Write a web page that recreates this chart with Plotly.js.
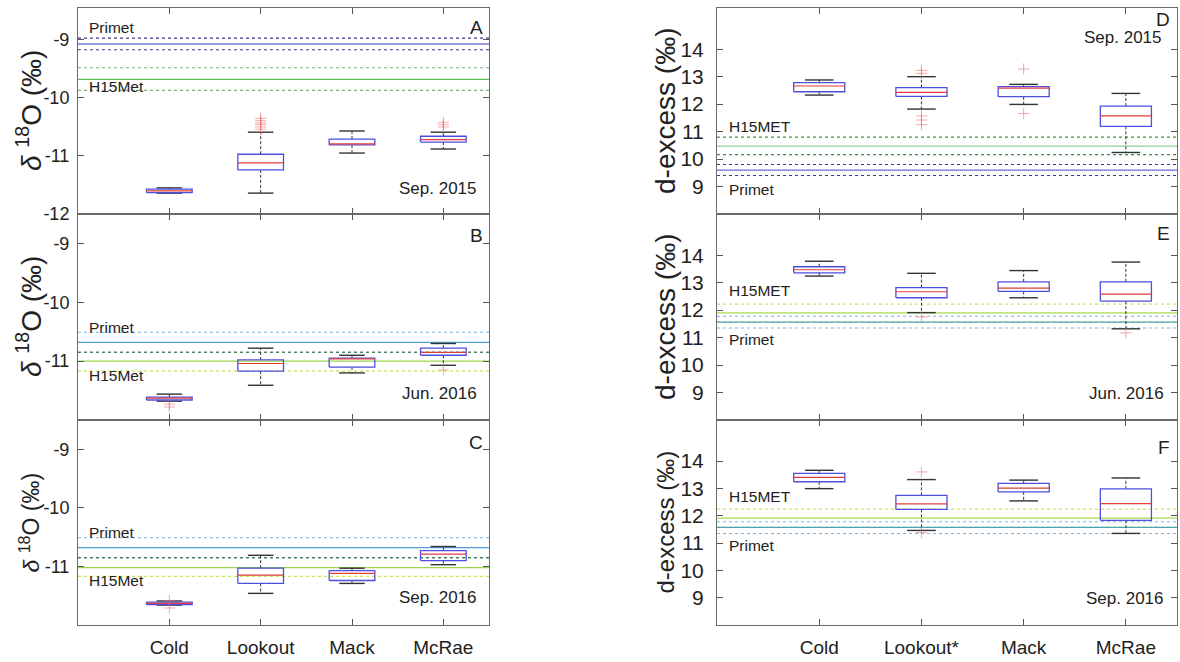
<!DOCTYPE html>
<html><head><meta charset="utf-8">
<script src="https://cdn.plot.ly/plotly-3.0.1.min.js"></script>
<style>html,body{margin:0;padding:0;background:#fff}#chart{width:1180px;height:662px}</style>
</head><body><div id="chart"></div>
<script>
// ---------------- DATA ----------------
const catsLeft = ['Cold', 'Lookout', 'Mack', 'McRae'];
const catsRight = ['Cold', 'Lookout*', 'Mack', 'McRae'];

// Panel A: d18O, Sep. 2015
const A_lo  = [-11.64, -11.64, -10.95, -10.88];
const A_q1  = [-11.63, -11.24, -10.81, -10.76];
const A_med = [-11.60, -11.12, -10.79, -10.72];
const A_q3  = [-11.57, -10.97, -10.71, -10.66];
const A_hi  = [-11.55, -10.59, -10.57, -10.59];
const A_outCat = [2, 2, 2, 2, 2, 2, 4, 4, 4];
const A_outVal = [-10.35, -10.39, -10.43, -10.46, -10.50, -10.54, -10.42, -10.46, -10.50];
const A_primet = [-8.97, -9.07, -9.17];
const A_h15 = [-9.48, -9.68, -9.87];

// Panel B: d18O, Jun. 2016
const B_lo  = [-11.68, -11.41, -11.20, -11.07];
const B_q1  = [-11.66, -11.17, -11.10, -10.90];
const B_med = [-11.63, -11.04, -10.96, -10.85];
const B_q3  = [-11.61, -10.98, -10.95, -10.78];
const B_hi  = [-11.56, -10.78, -10.90, -10.70];
const B_outCat = [1, 1, 4];
const B_outVal = [-11.73, -11.78, -11.15];
const B_primet = [-10.51, -10.68, -10.85];
const B_h15 = [-10.85, -11.00, -11.17];

// Panel C: d18O, Sep. 2016
const C_lo  = [-11.66, -11.46, -11.29, -10.97];
const C_q1  = [-11.65, -11.29, -11.24, -10.90];
const C_med = [-11.63, -11.15, -11.12, -10.79];
const C_q3  = [-11.61, -11.03, -11.07, -10.73];
const C_hi  = [-11.59, -10.81, -11.03, -10.66];
const C_outCat = [1, 1];
const C_outVal = [-11.58, -11.71];
const C_primet = [-10.51, -10.68, -10.85];
const C_h15 = [-10.85, -11.02, -11.17];

// Panel D: d-excess, Sep. 2015
const D_lo  = [12.33, 11.82, 11.99, 10.24];
const D_q1  = [12.45, 12.28, 12.27, 11.19];
const D_med = [12.66, 12.43, 12.58, 11.57];
const D_q3  = [12.78, 12.60, 12.64, 11.93];
const D_hi  = [12.88, 13.00, 12.72, 12.39];
const D_outCat = [2, 2, 2, 2, 2, 3, 3];
const D_outVal = [13.23, 13.12, 11.57, 11.42, 11.25, 13.28, 11.66];
const D_h15 = [10.80, 10.47, 10.16];
const D_primet = [9.80, 9.60, 9.40];

// Panel E: d-excess, Jun. 2016
const E_lo  = [13.24, 11.91, 12.45, 11.32];
const E_q1  = [13.36, 12.45, 12.68, 12.33];
const E_med = [13.47, 12.67, 12.80, 12.58];
const E_q3  = [13.58, 12.82, 13.03, 13.03];
const E_hi  = [13.78, 13.34, 13.44, 13.75];
const E_outCat = [2, 4];
const E_outVal = [11.75, 11.17];
const E_h15 = [12.22, 11.90, 11.58];
const E_primet = [11.78, 11.56, 11.35];

// Panel F: d-excess, Sep. 2016
const F_lo  = [12.99, 11.46, 12.54, 11.35];
const F_q1  = [13.24, 12.23, 12.87, 11.83];
const F_med = [13.40, 12.43, 13.01, 12.44];
const F_q3  = [13.55, 12.74, 13.18, 12.98];
const F_hi  = [13.66, 13.32, 13.30, 13.38];
const F_outCat = [2, 2];
const F_outVal = [13.60, 11.38];
const F_h15 = [12.24, 11.91, 11.58];
const F_primet = [11.78, 11.57, 11.35];

const leftTicks = [-12, -11, -10, -9];
const rightTicks = [9, 10, 11, 12, 13, 14];

// ---------------- STYLE / LAYOUT CONFIG ----------------
const FONT = 'Liberation Sans, Arial, Helvetica, sans-serif';
const BOX_HALF = 0.25, CAP_HALF = 0.14;
const colBox = '#4e4ee0', colMed = '#e23c3c', colWhisk = '#333333', colOut = 'rgba(238,110,110,0.6)';

const panels = [
  {id: '', cats: catsLeft, lo: A_lo, q1: A_q1, med: A_med, q3: A_q3, hi: A_hi, oc: A_outCat, ov: A_outVal,
   refs: [[A_primet, '#3b3b90', '#7878d4'], [A_h15, '#7fae7f', '#5cc05c']],
   xd: [78, 489], yd: [8, 214], range: [-12, -8.45], ticks: leftTicks, showX: false,
   letter: 'A', date: 'Sep. 2015', dateY: 0.126, letterY: 0.905,
   lab1: ['Primet', 0.905], lab2: ['H15Met', 0.617], ytitle: 'left', tsize: 28},
  {id: '2', cats: catsLeft, lo: B_lo, q1: B_q1, med: B_med, q3: B_q3, hi: B_hi, oc: B_outCat, ov: B_outVal,
   refs: [[B_primet, '#7ab4e6', '#4c9fd8'], [B_h15, '#c4e45c', '#9ad64a']], midDark: '#3f7a5a',
   xd: [78, 489], yd: [214, 420], range: [-12, -8.5], ticks: leftTicks.slice(1), showX: false,
   letter: 'B', date: 'Jun. 2016', dateY: 0.131, letterY: 0.898,
   lab1: ['Primet', 0.451], lab2: ['H15Met', 0.218], ytitle: 'left', tsize: 28},
  {id: '3', cats: catsLeft, lo: C_lo, q1: C_q1, med: C_med, q3: C_q3, hi: C_hi, oc: C_outCat, ov: C_outVal,
   refs: [[C_primet, '#7ab4e6', '#4c9fd8'], [C_h15, '#c4e45c', '#9ad64a']], midDark: '#3f7a5a',
   xd: [78, 489], yd: [420, 625], range: [-12, -8.5], ticks: leftTicks.slice(1), showX: true,
   letter: 'C', date: 'Sep. 2016', dateY: 0.132, letterY: 0.888,
   lab1: ['Primet', 0.449], lab2: ['H15Met', 0.215], ytitle: 'left', tsize: 23},
  {id: '4', cats: catsRight, lo: D_lo, q1: D_q1, med: D_med, q3: D_q3, hi: D_hi, oc: D_outCat, ov: D_outVal,
   refs: [[D_h15, '#3f8f3f', '#8fcf8f'], [D_primet, '#34349a', '#6a6ae0']],
   xd: [717, 1177], yd: [8, 214], range: [8, 15.5], ticks: rightTicks, showX: false,
   letter: 'D', date: 'Sep. 2015', dateY: 0.855, letterY: 0.945, dateX: 0.972,
   lab1: ['H15MET', 0.427], lab2: ['Primet', 0.121], ytitle: 'right', tsize: 28},
  {id: '5', cats: catsRight, lo: E_lo, q1: E_q1, med: E_med, q3: E_q3, hi: E_hi, oc: E_outCat, ov: E_outVal,
   refs: [[E_h15, '#c8e85a', '#a8dc50'], [E_primet, '#78b6e6', '#48a6b6']],
   xd: [717, 1177], yd: [214, 420], range: [8, 15.5], ticks: rightTicks, showX: false,
   letter: 'E', date: 'Jun. 2016', dateY: 0.131, letterY: 0.905,
   lab1: ['H15MET', 0.631], lab2: ['Primet', 0.393], ytitle: 'right', tsize: 28},
  {id: '6', cats: catsRight, lo: F_lo, q1: F_q1, med: F_med, q3: F_q3, hi: F_hi, oc: F_outCat, ov: F_outVal,
   refs: [[F_h15, '#c8e85a', '#a8dc50'], [F_primet, '#78b6e6', '#48a6b6']],
   xd: [717, 1177], yd: [420, 625], range: [8, 15.5], ticks: rightTicks, showX: true,
   letter: 'F', date: 'Sep. 2016', dateY: 0.127, letterY: 0.868,
   lab1: ['H15MET', 0.629], lab2: ['Primet', 0.39], ytitle: 'right', tsize: 24}
];

const W = 1180, H = 662;
const traces = [], shapes = [], annotations = [];
const layout = {
  width: W, height: H, margin: {l: 0, r: 0, t: 0, b: 0},
  paper_bgcolor: '#ffffff', plot_bgcolor: '#ffffff', showlegend: false,
  font: {family: FONT, color: '#222222'}
};

panels.forEach(p => {
  const xa = 'x' + p.id, ya = 'y' + p.id;
  const pos = p.cats.map((c, i) => i + 1);
  const box = {x: [], y: []}, med = {x: [], y: []}, wh = {x: [], y: []}, cap = {x: [], y: []};
  pos.forEach((c, i) => {
    box.x.push(c - BOX_HALF, c + BOX_HALF, c + BOX_HALF, c - BOX_HALF, c - BOX_HALF, null);
    box.y.push(p.q1[i], p.q1[i], p.q3[i], p.q3[i], p.q1[i], null);
    med.x.push(c - BOX_HALF, c + BOX_HALF, null);
    med.y.push(p.med[i], p.med[i], null);
    wh.x.push(c, c, null, c, c, null);
    wh.y.push(p.q3[i], p.hi[i], null, p.q1[i], p.lo[i], null);
    cap.x.push(c - CAP_HALF, c + CAP_HALF, null, c - CAP_HALF, c + CAP_HALF, null);
    cap.y.push(p.hi[i], p.hi[i], null, p.lo[i], p.lo[i], null);
  });
  const base = {xaxis: xa, yaxis: ya, type: 'scatter', hoverinfo: 'skip', cliponaxis: false};
  traces.push(Object.assign({}, base, {mode: 'lines', x: wh.x, y: wh.y, line: {color: colWhisk, width: 1, dash: '3px,2px'}}));
  traces.push(Object.assign({}, base, {mode: 'lines', x: cap.x, y: cap.y, line: {color: colWhisk, width: 1.4}}));
  traces.push(Object.assign({}, base, {mode: 'lines', x: box.x, y: box.y, line: {color: colBox, width: 1.3}}));
  traces.push(Object.assign({}, base, {mode: 'lines', x: med.x, y: med.y, line: {color: colMed, width: 1.2}}));
  traces.push(Object.assign({}, base, {mode: 'markers', x: p.oc, y: p.ov,
    marker: {symbol: 'cross-thin', size: 8, color: colOut, line: {color: colOut, width: 1}}}));

  // reference lines: [upper dashed, mean solid, lower dashed]
  p.refs.forEach((r, k) => {
    const vals = r[0];
    [0, 1, 2].forEach(j => {
      let color = j === 1 ? r[2] : r[1];
      if (p.midDark && ((k === 0 && j === 2) || (k === 1 && j === 0))) color = p.midDark;
      shapes.push({type: 'line', xref: xa + ' domain', yref: ya, x0: 0, x1: 1, y0: vals[j], y1: vals[j],
        line: {color: color, width: j === 1 ? 1.3 : 1.1, dash: j === 1 ? 'solid' : '3px,3px'}, layer: 'below'});
    });
  });

  layout['xaxis' + p.id] = {
    domain: [p.xd[0] / W, p.xd[1] / W], anchor: ya, range: [0, 4.5],
    tickmode: 'array', tickvals: pos, ticktext: p.cats, showticklabels: p.showX,
    ticks: 'inside', ticklen: 6, tickcolor: '#555', mirror: 'ticks', showline: true, linecolor: '#6a6a6a', linewidth: 1,
    showgrid: false, zeroline: false, fixedrange: true, ticklabelstandoff: 5,
    tickfont: {size: 19, family: FONT, color: '#222'}
  };
  layout['yaxis' + p.id] = {
    domain: [1 - p.yd[1] / H, 1 - p.yd[0] / H], anchor: xa, range: p.range,
    tickmode: 'array', tickvals: p.ticks, ticktext: p.ticks.map(String),
    ticks: 'inside', ticklen: 6, tickcolor: '#555', mirror: 'ticks', showline: true, linecolor: '#6a6a6a', linewidth: 1,
    showgrid: false, zeroline: false, fixedrange: true, ticklabelstandoff: p.ytitle === 'left' ? 4 : 8,
    tickfont: {size: p.ytitle === 'left' ? 18 : 21, family: FONT, color: '#222'}
  };

  const ax = xa + ' domain', ay = ya + ' domain';
  annotations.push({xref: ax, yref: ay, x: 0.99, y: p.letterY, text: p.letter, showarrow: false,
    xanchor: 'right', yanchor: 'middle', font: {size: 19, family: FONT, color: '#222'}});
  annotations.push({xref: ax, yref: ay, x: p.dateX || 0.975, y: p.dateY, text: p.date, showarrow: false,
    xanchor: 'right', yanchor: 'middle', font: {size: 17, family: FONT, color: '#222'}});
  annotations.push({xref: ax, yref: ay, x: 0.022, y: p.lab1[1], text: p.lab1[0], showarrow: false,
    xanchor: 'left', yanchor: 'middle', font: {size: 15.5, family: FONT, color: '#222'}});
  annotations.push({xref: ax, yref: ay, x: 0.022, y: p.lab2[1], text: p.lab2[0], showarrow: false,
    xanchor: 'left', yanchor: 'middle', font: {size: 15.5, family: FONT, color: '#222'}});
  const tx = p.ytitle === 'left' ? 29 / W : 665 / W;
  const ttext = p.ytitle === 'left' ? '<i>δ</i> <sup>18</sup>O (‰)' : 'd-excess (‰)';
  annotations.push({xref: 'paper', yref: ay, x: tx, y: 0.5, text: ttext, textangle: -90, showarrow: false,
    xanchor: 'center', yanchor: 'middle', font: {size: p.tsize, family: FONT, color: '#222'}});
});

layout.shapes = shapes;
layout.annotations = annotations;
Plotly.newPlot('chart', traces, layout, {staticPlot: true, displayModeBar: false});
</script>
</body></html>
